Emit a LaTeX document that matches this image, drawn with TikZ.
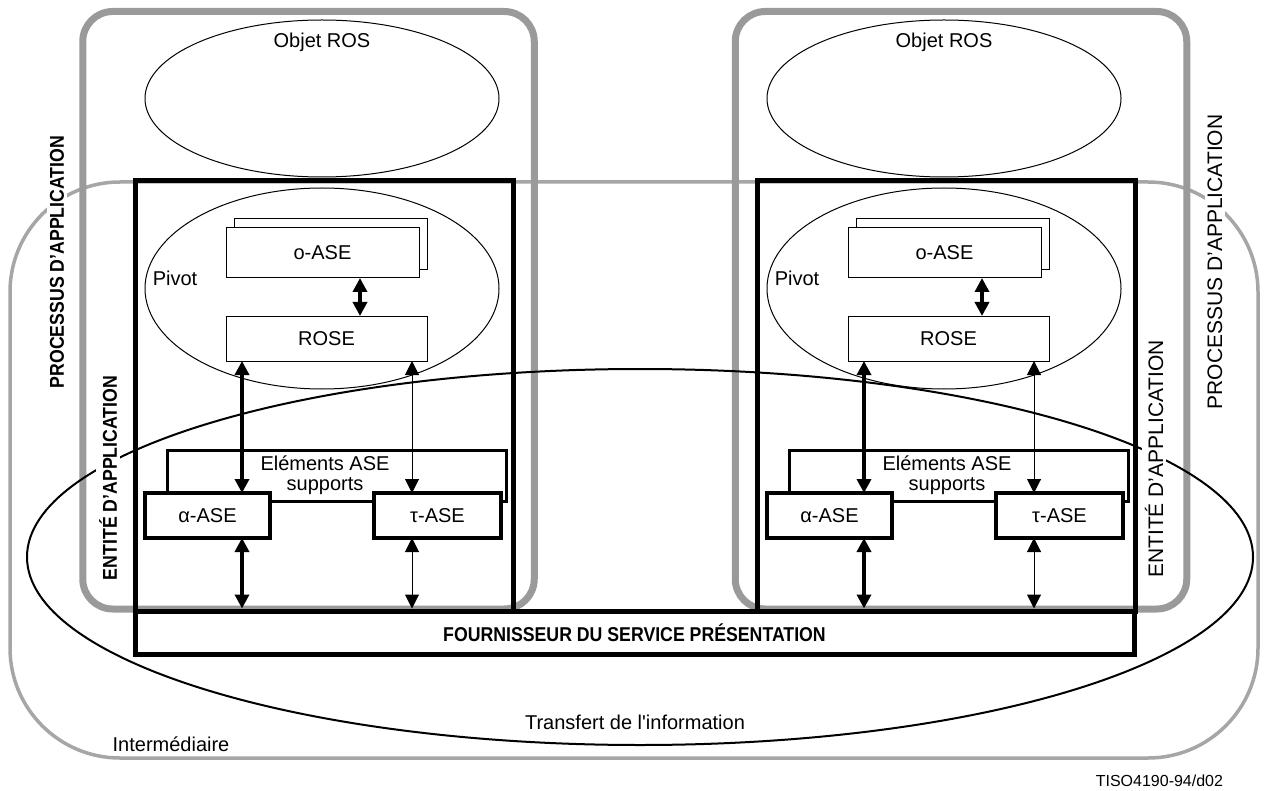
\documentclass[tikz,border=0pt]{standalone}
\usepackage{fontspec}
\setmainfont{Liberation Sans}
\usepackage{graphicx}
\usetikzlibrary{arrows.meta,shapes.geometric}
\definecolor{procgray}{HTML}{9A9A9A}
\definecolor{intgray}{HTML}{A6A6A6}
% bold capitals are set in a condensed cut
\newcommand{\condensed}[1]{\scalebox{0.885}[1]{\bfseries #1}}
% straight apostrophe, taken from the font by glyph name
\newcommand{\straightquote}{\XeTeXglyph\the\XeTeXglyphindex "quotesingle"\relax}

\begin{document}
\begin{tikzpicture}[x=1pt,y=-1pt,
  every node/.style={font=\fontsize{20}{20}\selectfont, inner sep=0pt, outer sep=0pt},
  intframe/.style={draw=intgray, line width=3.5pt, rounded corners=110pt, rectangle},
  procframe/.style={draw=procgray, line width=7pt, rounded corners=30pt, rectangle},
  aeframe/.style={draw, line width=5pt, rectangle},
  oval/.style={draw, ellipse, line width=1pt},
  thinbox/.style={draw, fill=white, line width=1pt, rectangle},
  asebox/.style={draw, fill=white, line width=3.5pt, rectangle, minimum height=45pt},
  supbox/.style={draw, line width=3pt, rectangle},
  biheavy/.style={line width=3.5pt, {Triangle[width=14pt,length=14pt]}-{Triangle[width=14pt,length=14pt]}},
  bilight/.style={line width=1pt, {Triangle[width=14pt,length=14pt]}-{Triangle[width=14pt,length=14pt]}},
  gaplabel/.style={fill=white, inner sep=3pt}
]
\useasboundingbox (0,0) rectangle (1265,791);

% intermediate system
\node[intframe, minimum width=1248pt, minimum height=576pt] (inter) at (634,470) {};

% the two application processes
\node[procframe, minimum width=451.5pt, minimum height=597.5pt] (procL) at (308.5,310.25) {};
\node[procframe, minimum width=451.5pt, minimum height=597.5pt] (procR) at (961,310.25) {};

% information transfer
\node[draw, ellipse, line width=2pt, minimum width=1226pt, minimum height=376pt] (transfer) at (640,557) {};

% presentation service provider
\node[aeframe, minimum width=999pt, minimum height=43pt] (pres) at (634.5,632.5)
  {\condensed{FOURNISSEUR DU SERVICE PRÉSENTATION}};

% one application entity per side
\foreach \s/\dx in {L/0,R/622}{
  \begin{scope}[xshift=\dx pt]
    \node[oval, minimum width=354pt, minimum height=157pt] (obj\s) at (322,98.5) {};
    \node (objt\s) at (322,42) {Objet ROS};
    \node[oval, minimum width=354pt, minimum height=201pt] (piv\s) at (322,288.5) {};
    \node (pivt\s) at (175,278) {Pivot};
    \node[aeframe, minimum width=378pt, minimum height=430pt] (ae\s) at (324,396) {};

    \node[supbox, minimum width=339pt, minimum height=51pt] (sup\s) at (336.5,475.5) {};
    \node[align=center] (supt\s) at (325,475) {Eléments ASE\\supports};
    \node[asebox, minimum width=125pt] (alpha\s) at (207.5,515.5) {α-ASE};
    \node[asebox, minimum width=127pt] (tau\s) at (437.5,515.5) {τ-ASE};

    \node[thinbox, minimum width=193pt, minimum height=51pt] (oback\s) at (330.5,244.5) {};
    \node[thinbox, minimum width=193pt, minimum height=50pt] (oase\s) at (322.5,253) {o-ASE};
    \node[thinbox, minimum width=201pt, minimum height=45pt] (rose\s) at (326.5,338.5) {ROSE};

    \coordinate (k\s) at (360,0);
    \coordinate (a\s) at (242,0);
    \coordinate (t\s) at (412,0);
    \draw[biheavy] (k\s |- oase\s.south) -- (k\s |- rose\s.north);
    \draw[biheavy] (a\s |- rose\s.south) -- (a\s |- alpha\s.north);
    \draw[bilight] (t\s |- rose\s.south) -- (t\s |- tau\s.north);
    \draw[biheavy, shorten >=2.5pt] (a\s |- alpha\s.south) -- (a\s |- pres.north);
    \draw[bilight, shorten >=2.5pt] (t\s |- tau\s.south) -- (t\s |- pres.north);
  \end{scope}
}

% side labels
\node[gaplabel, rotate=90] (ppL) at (57,262) {\condensed{PROCESSUS D'APPLICATION}};
\node[gaplabel, rotate=90] (peL) at (108,478) {\condensed{ENTITÉ D'APPLICATION}};
\node[gaplabel, rotate=90, font=\fontsize{21}{21}\selectfont] (ppR) at (1215,262) {PROCESSUS D'APPLICATION};
\node[gaplabel, rotate=90, font=\fontsize{21}{21}\selectfont] (peR) at (1154,459) {ENTITÉ D'APPLICATION};

\node (transfert) at (635,722) {Transfert de l\straightquote information};
\node (intermed) at (171,744) {Intermédiaire};
\node[anchor=east, font=\fontsize{16}{16}\selectfont] (figref) at (1223,781) {TISO4190-94/d02};
\end{tikzpicture}
\end{document}
